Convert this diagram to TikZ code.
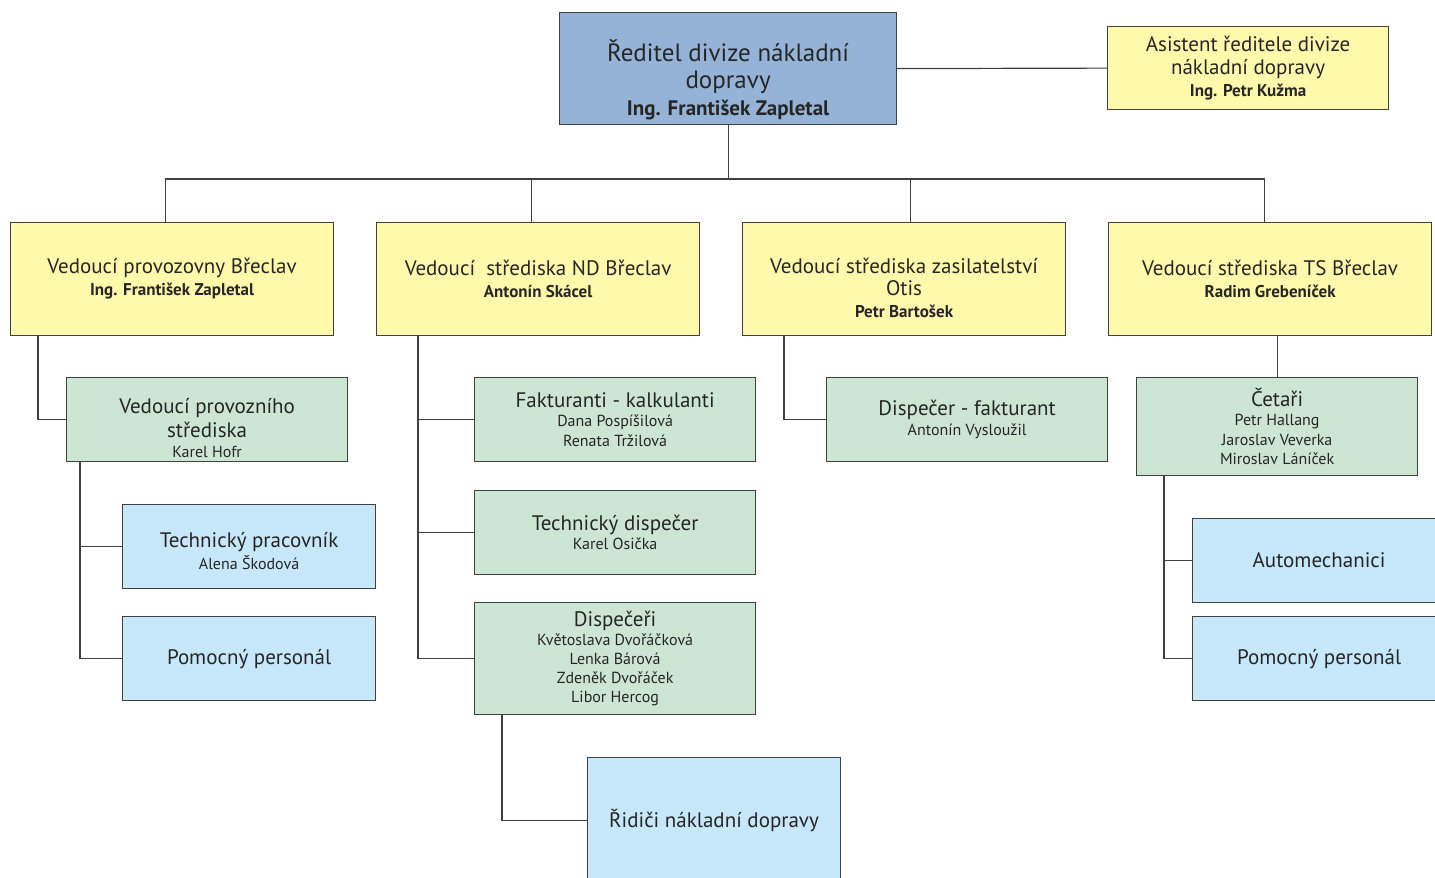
\documentclass[tikz,border=0pt]{standalone}
\usepackage{fontspec}
\setmainfont{PT Sans}
\usepackage{tikz}

\definecolor{headblue}{RGB}{149,179,215}
\definecolor{leadyellow}{RGB}{255,249,171}
\definecolor{staffgreen}{RGB}{205,230,212}
\definecolor{crewblue}{RGB}{198,232,250}

\newcommand{\who}{\fontsize{17}{20}\selectfont\bfseries}
\newcommand{\nm}{\fontsize{16}{19}\selectfont}

\begin{document}
\begin{tikzpicture}[x=1pt, y=-1pt,
  orgbox/.style={draw=black!75, line width=1.2pt, anchor=north west, align=center, inner sep=2pt,
    text=black!85, font=\fontsize{21}{22}\selectfont},
  headbox/.style={orgbox, fill=headblue, minimum width=337pt, minimum height=112pt, font=\fontsize{25}{27}\selectfont},
  leadbox/.style={orgbox, fill=leadyellow, minimum width=323pt, minimum height=113pt},
  staffbox/.style={orgbox, fill=staffgreen, minimum width=281pt, minimum height=84pt, font=\fontsize{21}{19.5}\selectfont},
  crewbox/.style={orgbox, fill=crewblue, minimum width=253pt, minimum height=84pt},
  link/.style={draw=black!75, line width=1.2pt}]
  \clip (0,0) rectangle (1435,878);
  \fill[white] (0,0) rectangle (1435,878);

  \node[headbox] (dir) at (559,12) {\rule{0pt}{44pt}Ředitel divize nákladní\\ dopravy\\ {\fontsize{21}{24}\selectfont\bfseries Ing. František Zapletal}};
  \node[orgbox, fill=leadyellow, minimum width=281pt, minimum height=83pt] (asst) at (1107,26) {Asistent ředitele divize\\[1pt] nákladní dopravy\\ {\who Ing. Petr Kužma}};

  \node[leadbox] (b1) at (10,222) {Vedoucí provozovny Břeclav\\ {\who Ing. František Zapletal}};
  \node[leadbox] (b2) at (376,222) {Vedoucí\ \ střediska ND Břeclav\\ {\who Antonín Skácel}};
  \node[leadbox] (b3) at (742,222) {\rule{0pt}{34pt}Vedoucí střediska zasilatelství\\ Otis\\ {\who Petr Bartošek}};
  \node[leadbox] (b4) at (1108,222) {Vedoucí střediska TS Břeclav\\ {\who Radim Grebeníček}};

  \node[staffbox] (c11) at (66,377) {\rule{0pt}{32pt}Vedoucí provozního\\[3pt] střediska\\ {\nm Karel Hofr}};
  \node[crewbox] (c12) at (122,504) {\rule{0pt}{24pt}Technický pracovník\\ {\nm Alena Škodová}};
  \node[crewbox] (c13) at (122,616) {Pomocný personál};

  \node[staffbox] (c21) at (474,377) {Fakturanti - kalkulanti\\ {\nm Dana Pospíšilová}\\ {\nm Renata Tržilová}};
  \node[staffbox] (c22) at (474,490) {Technický dispečer\\ {\nm Karel Osička}};
  \node[staffbox, minimum height=112pt, font=\fontsize{21}{19}\selectfont] (c23) at (474,602) {Dispečeři\\ {\nm Květoslava Dvořáčková}\\ {\nm Lenka Bárová}\\ {\nm Zdeněk Dvořáček}\\ {\nm Libor Hercog}};
  \node[crewbox, minimum height=125pt] (rid) at (587,757) {Řidiči nákladní dopravy};

  \node[staffbox] (c31) at (826,377) {Dispečer - fakturant\\ {\nm Antonín Vysloužil}};

  \node[staffbox, minimum height=98pt] (c41) at (1136,377) {Četaři\\ {\nm Petr Hallang}\\ {\nm Jaroslav Veverka}\\ {\nm Miroslav Láníček}};
  \node[crewbox] (c42) at (1192,518) {Automechanici};
  \node[crewbox] (c43) at (1192,616) {Pomocný personál};

  % top level
  \coordinate (bus) at (727,179);
  \draw[link] (dir.east) -- (asst.west);
  \draw[link] (dir.south) -- (dir.south |- bus);
  \draw[link] ([xshift=-7pt]b1.north) |- (bus) -| ([xshift=-6pt]b4.north);
  \draw[link] ([xshift=-7pt]b2.north) -- ([xshift=-7pt]b2.north |- bus);
  \draw[link] ([xshift=6pt]b3.north) -- ([xshift=6pt]b3.north |- bus);

  % branches
  \draw[link] ([xshift=28pt]b1.south west) |- (c11.west);
  \draw[link] ([xshift=14pt]c11.south west) |- (c12.west);
  \draw[link] ([xshift=14pt]c11.south west) |- (c13.west);
  \foreach \n in {c21,c22,c23}
    \draw[link] ([xshift=42pt]b2.south west) |- (\n.west);
  \draw[link] ([xshift=28pt]c23.south west) |- (rid.west);
  \draw[link] ([xshift=42pt]b3.south west) |- (c31.west);
  \draw[link] (c41.north |- b4.south) -- (c41.north);
  \draw[link] ([xshift=28pt]c41.south west) |- (c42.west);
  \draw[link] ([xshift=28pt]c41.south west) |- (c43.west);
\end{tikzpicture}
\end{document}
